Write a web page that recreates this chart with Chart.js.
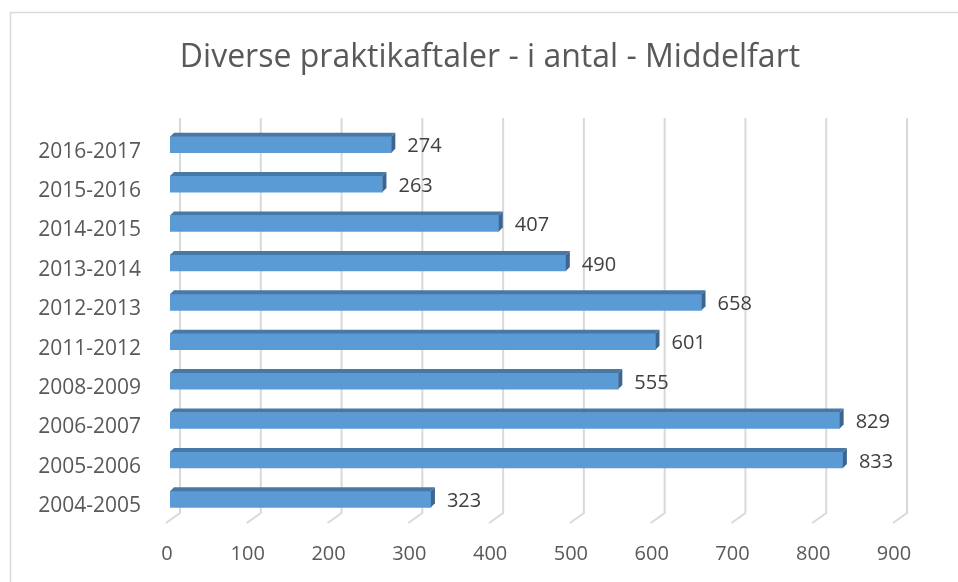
<!DOCTYPE html>
<html>
<head>
<meta charset="utf-8">
<script src="https://cdn.jsdelivr.net/npm/chart.js@4"></script>
<style>
  body { margin: 0; background: #fff; }
  canvas { display: block; }
</style>
</head>
<body>
<canvas id="praktikChart" width="958" height="582"></canvas>
<script>
// Diverse praktikaftaler - i antal - Middelfart
const years = ['2004-2005', '2005-2006', '2006-2007', '2008-2009', '2011-2012',
               '2012-2013', '2013-2014', '2014-2015', '2015-2016', '2016-2017'];
const aftaler = [323, 833, 829, 555, 601, 658, 490, 407, 263, 274];
const xTicks = [0, 100, 200, 300, 400, 500, 600, 700, 800, 900];
const title = 'Diverse praktikaftaler - i antal - Middelfart';

const font = '"Open Sans", "Liberation Sans", sans-serif';
const textColor = '#595959';
const depth = 4;

// chart frame, title and 3D style gridlines (back wall + floor)
const backdrop = {
  id: 'backdrop',
  beforeDraw(chart) {
    const c = chart.ctx;
    c.save();
    c.strokeStyle = '#d9d9d9';
    c.lineWidth = 1.5;
    c.strokeRect(10.5, 12.5, chart.width + 20, chart.height + 20);
    c.fillStyle = textColor;
    c.font = '32px ' + font;
    c.textAlign = 'center';
    c.textBaseline = 'middle';
    c.fillText(title, 490, 58);
    c.restore();
  },
  beforeDatasetsDraw(chart) {
    const c = chart.ctx;
    const x = chart.scales.x;
    const area = chart.chartArea;
    c.save();
    c.strokeStyle = '#d9d9d9';
    c.lineWidth = 2;
    xTicks.forEach(v => {
      const px = x.getPixelForValue(v) + 10;
      c.beginPath();
      c.moveTo(px, area.top - 7);
      c.lineTo(px, area.bottom - 6);
      c.lineTo(px - 14, area.bottom + 4);
      c.stroke();
    });
    c.restore();
  }
};

// top and end faces of the bars, plus value labels
const bars3d = {
  id: 'bars3d',
  afterDatasetsDraw(chart) {
    const c = chart.ctx;
    const meta = chart.getDatasetMeta(0);
    c.save();
    meta.data.forEach((bar, i) => {
      const left = bar.base, right = bar.x;
      const top = bar.y - bar.height / 2, bottom = bar.y + bar.height / 2;
      c.fillStyle = '#4878a8';
      c.beginPath();
      c.moveTo(left, top);
      c.lineTo(left + depth, top - depth);
      c.lineTo(right + depth, top - depth);
      c.lineTo(right, top);
      c.closePath();
      c.fill();
      c.fillStyle = '#3c668f';
      c.beginPath();
      c.moveTo(right, top);
      c.lineTo(right + depth, top - depth);
      c.lineTo(right + depth, bottom - depth);
      c.lineTo(right, bottom);
      c.closePath();
      c.fill();

      c.fillStyle = '#404040';
      c.font = '20px ' + font;
      c.textAlign = 'left';
      c.textBaseline = 'middle';
      c.fillText(aftaler[i], right + 16, bar.y + 2);
    });
    c.restore();
  }
};

const ctx = document.getElementById('praktikChart').getContext('2d');
new Chart(ctx, {
  type: 'bar',
  data: {
    labels: years,
    datasets: [{
      data: aftaler,
      backgroundColor: '#5b9bd5',
      borderWidth: 0,
      barThickness: 16
    }]
  },
  options: {
    indexAxis: 'y',
    responsive: false,
    animation: false,
    layout: { padding: { left: 0, right: 61, top: 125, bottom: 0 } },
    plugins: {
      legend: { display: false },
      tooltip: { enabled: false },
      title: { display: false }
    },
    scales: {
      x: {
        min: 0,
        max: 900,
        afterBuildTicks(scale) { scale.ticks = xTicks.map(v => ({ value: v })); },
        afterFit(scale) { scale.height = 63; },
        grid: { display: false },
        border: { display: false },
        ticks: { color: textColor, font: { family: font, size: 20 }, padding: 15, labelOffset: -3 }
      },
      y: {
        reverse: true,
        afterFit(scale) { scale.width = 170; },
        grid: { display: false },
        border: { display: false },
        ticks: { color: textColor, font: { family: font, size: 21 }, padding: 21, labelOffset: 7 }
      }
    }
  },
  plugins: [backdrop, bars3d]
});
</script>
</body>
</html>
